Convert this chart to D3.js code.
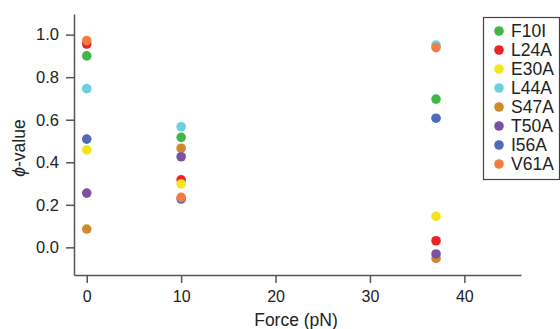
<!DOCTYPE html>
<html>
<head>
<meta charset="utf-8">
<script src="https://cdn.jsdelivr.net/npm/d3@7"></script>
<style>
  body { margin: 0; background: #fff; }
  svg text { font-family: "Liberation Sans", Arial, sans-serif; fill: #222; }
  .axis path, .axis line { stroke: #555; stroke-width: 1.5; }
</style>
</head>
<body>
<div id="chart"></div>
<script>
// forces at which phi-values were measured
const forces = [0, 10, 37];
const mutants = ["F10I", "L24A", "E30A", "L44A", "S47A", "T50A", "I56A", "V61A"];
const colors = ["#41b649", "#ec2227", "#f2e61a", "#6ccfe0", "#cf8a2d", "#7a52a5", "#4e6ab8", "#f37c44"];

// phi-values per mutant, one per force
const F10I = [0.90, 0.517, 0.697];
const L24A = [0.956, 0.317, 0.031];
const E30A = [0.458, 0.298, 0.146];
const L44A = [0.746, 0.567, 0.951];
const S47A = [0.086, 0.466, -0.052];
const T50A = [0.255, 0.426, -0.031];
const I56A = [0.509, 0.227, 0.607];
const V61A = [0.972, 0.235, 0.939];
const values = [F10I, L24A, E30A, L44A, S47A, T50A, I56A, V61A];

const xTicks = [0, 10, 20, 30, 40];
const yTicks = [0, 0.2, 0.4, 0.6, 0.8, 1.0];

const width = 560, height = 329;
const svg = d3.select("#chart").append("svg")
  .attr("width", width)
  .attr("height", height);

const x = d3.scaleLinear().domain([-1.35, 46]).range([74, 521]);
const y = d3.scaleLinear().domain([-0.13, 1.097]).range([275, 14]);

// axes
svg.append("g")
  .attr("class", "axis")
  .attr("transform", "translate(0,275)")
  .call(d3.axisBottom(x).tickValues(xTicks).tickSize(8).tickSizeOuter(0).tickPadding(8))
  .call(g => g.selectAll("text").style("font-size", "16px").style("fill", "#222"));

svg.append("g")
  .attr("class", "axis")
  .attr("transform", "translate(74,0)")
  .call(d3.axisLeft(y).tickValues(yTicks).tickFormat(d3.format(".1f")).tickSize(8).tickSizeOuter(0).tickPadding(7))
  .call(g => g.selectAll("text").style("font-size", "16.5px").style("fill", "#222"));

// axis titles
svg.append("text")
  .attr("x", 296).attr("y", 326)
  .attr("text-anchor", "middle")
  .style("font-size", "17.5px")
  .text("Force (pN)");

const ylab = svg.append("text")
  .attr("transform", "translate(25,148) rotate(-90)")
  .attr("text-anchor", "middle")
  .style("font-size", "17.5px");
ylab.append("tspan").style("font-style", "italic").text("ϕ");
ylab.append("tspan").text("-value");

// points
const series = svg.selectAll(".series")
  .data(mutants)
  .enter().append("g")
  .attr("class", "series")
  .style("fill", (d, i) => colors[i]);

series.selectAll("circle")
  .data((d, i) => values[i].map((v, j) => ({ f: forces[j], v: v })))
  .enter().append("circle")
  .attr("cx", d => x(d.f))
  .attr("cy", d => y(d.v))
  .attr("r", 4.8);

// legend
const legend = svg.append("g");
legend.append("rect")
  .attr("x", 483.5).attr("y", 17.5)
  .attr("width", 76).attr("height", 162)
  .style("fill", "#fff")
  .style("stroke", "#444")
  .style("stroke-width", 1.2);

const item = legend.selectAll(".item")
  .data(mutants)
  .enter().append("g")
  .attr("class", "item")
  .attr("transform", (d, i) => `translate(0,${31 + i * 19})`);

item.append("circle")
  .attr("cx", 499).attr("cy", 0).attr("r", 4.8)
  .style("fill", (d, i) => colors[i]);

item.append("text")
  .attr("x", 511).attr("y", 0).attr("dy", "0.36em")
  .style("font-size", "17.5px")
  .text(d => d);
</script>
</body>
</html>
